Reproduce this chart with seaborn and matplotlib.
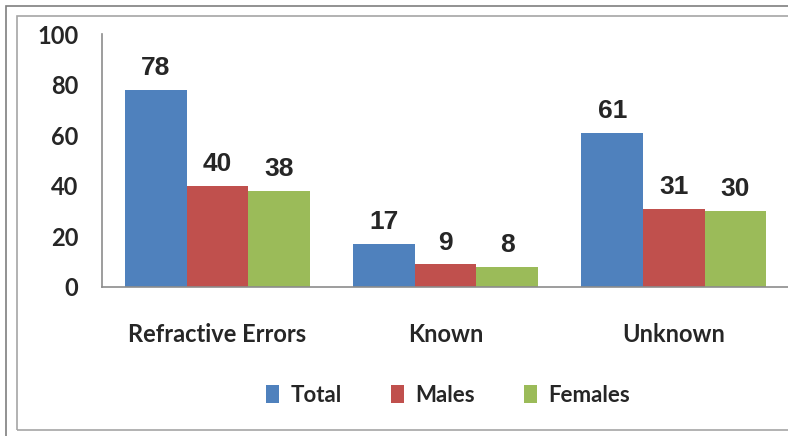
import pandas as pd
import matplotlib
matplotlib.use("Agg")
import matplotlib.pyplot as plt
from matplotlib.patches import Rectangle
import seaborn as sns

# ------------------------------------------
# DATA
# ------------------------------------------
categories = ["Refractive Errors", "Known", "Unknown"]
series = ["Total", "Males", "Females"]
total = [78, 17, 61]
males = [40, 9, 31]
females = [38, 8, 30]
colors = ["#4F81BD", "#C0504D", "#9BBB59"]

rows = []
for name, vals in zip(series, [total, males, females]):
    for cat, v in zip(categories, vals):
        rows.append({"category": cat, "series": name, "value": v})
df = pd.DataFrame(rows)

# ------------------------------------------
# PLOT
# ------------------------------------------
sns.set_style("white")
tick_font = ["Lato", "DejaVu Sans"]

fig = plt.figure(figsize=(7.88, 4.36), dpi=100)
ax = fig.add_axes([102 / 788, 1 - 287 / 436, 1 - 102 / 788, (287 - 34) / 436])

sns.barplot(data=df, x="category", y="value", hue="series",
            palette=colors, width=0.81, gap=0, ax=ax, legend=True,
            saturation=1, edgecolor="none")

for cont in ax.containers:
    ax.bar_label(cont, padding=7, fontsize=19, fontweight="bold",
                 family="Liberation Sans")

ax.set_ylim(0, 100)
ax.set_xlim(-0.506, 2.5)
ax.set_yticks([0, 20, 40, 60, 80, 100])
ax.set_xlabel("")
ax.set_ylabel("")
ax.tick_params(axis="y", length=0, pad=17)
ax.tick_params(axis="x", length=0, pad=26)
for lab in ax.get_xticklabels() + ax.get_yticklabels():
    lab.set_family(tick_font)
    lab.set_fontweight("bold")
    lab.set_fontsize(17)

for side in ["top", "right"]:
    ax.spines[side].set_visible(False)
for side in ["left", "bottom"]:
    ax.spines[side].set_color("#8c8c8c")
    ax.spines[side].set_linewidth(1.2)

handles, labels = ax.get_legend_handles_labels()
ax.legend_.remove()
fig.legend(handles, labels, loc="center", bbox_to_anchor=(448 / 788, 1 - 395 / 436),
           ncol=3, frameon=False, handlelength=0.6, handleheight=0.9,
           handletextpad=0.5, columnspacing=2.2,
           prop={"family": tick_font, "weight": "bold", "size": 16})

# chart borders
fig.patches.append(Rectangle((6 / 788, -0.1), 1.2, 1 - 6 / 436 + 0.1,
                             transform=fig.transFigure, fill=False,
                             edgecolor="#7f7f7f", linewidth=1.2))
fig.patches.append(Rectangle((17 / 788, 1 - 430 / 436), 1.2, (430 - 16) / 436,
                             transform=fig.transFigure, fill=False,
                             edgecolor="#a6a6a6", linewidth=1.2))

fig.savefig("out.png", dpi=100)
